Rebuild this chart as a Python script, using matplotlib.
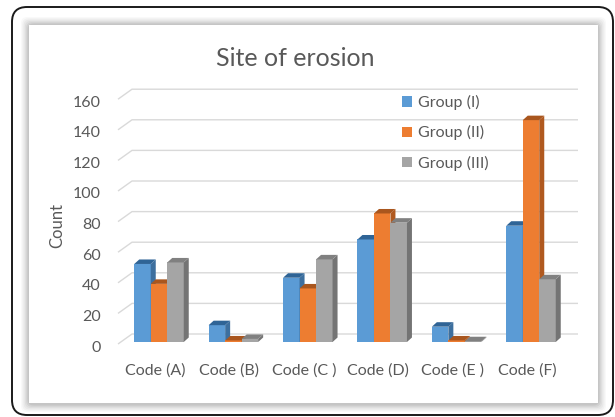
import matplotlib
matplotlib.use("Agg")
import matplotlib.pyplot as plt
from matplotlib.patches import FancyBboxPatch, Polygon, Patch
from matplotlib.transforms import ScaledTranslation

# ---- data ----
categories = ["Code (A)", "Code (B)", "Code (C )", "Code (D)", "Code (E )", "Code (F)"]
series_names = ["Group (I)", "Group (II)", "Group (III)"]
group_1 = [51, 11, 42, 67, 10, 76]
group_2 = [38, 1, 35, 84, 1, 145]
group_3 = [52, 2, 54, 78, 0.5, 41]
y_ticks = [0, 20, 40, 60, 80, 100, 120, 140, 160]

front_colors = ["#5B9BD5", "#ED7D31", "#A5A5A5"]
side_colors = ["#3D6F9E", "#B0591F", "#747474"]
top_colors = ["#2F6496", "#A9561E", "#808080"]
text_color = "#595959"
grid_color = "#D9D9D9"

W, H, DPI = 615, 417, 100
plt.rcParams["font.family"] = ["Lato", "DejaVu Sans"]

fig = plt.figure(figsize=(W / DPI, H / DPI), dpi=DPI)
fig.patch.set_facecolor("white")


def px_rect(x0, y0, x1, y1):
    """Rectangle given in top-left pixel coordinates -> inches from bottom-left."""
    return x0 / DPI, (H - y1) / DPI, (x1 - x0) / DPI, (y1 - y0) / DPI


# outer rounded frame
x, y, w, h = px_rect(12, 7, 613, 415)
fig.patches.append(FancyBboxPatch((x, y), w, h, boxstyle="round,pad=0,rounding_size=0.15",
                                  transform=fig.dpi_scale_trans, facecolor="white",
                                  edgecolor="#1a1a1a", linewidth=1.4, zorder=0))

# soft drop shadow behind the chart panel
for i, a in enumerate([0.025, 0.03, 0.035, 0.04, 0.05, 0.06]):
    g = 8 - i * 1.3
    x, y, w, h = px_rect(29 - g, 25 - g, 598 + g, 403 + g + 1)
    fig.patches.append(FancyBboxPatch((x, y), w, h, boxstyle="round,pad=0,rounding_size=0.06",
                                      transform=fig.dpi_scale_trans, facecolor="black",
                                      edgecolor="none", alpha=a, zorder=0.1))
x, y, w, h = px_rect(29, 25, 598, 403)
fig.patches.append(FancyBboxPatch((x, y), w, h, boxstyle="square,pad=0",
                                  transform=fig.dpi_scale_trans, facecolor="white",
                                  edgecolor="none", zorder=0.2))

# plotting area (front plane of the bars)
ax_l, ax_r, ax_t, ax_b = 118, 600, 70, 352
ax = fig.add_axes([ax_l / W, (H - ax_b) / H, (ax_r - ax_l) / W, (ax_b - ax_t) / H])
ax.set_zorder(2)
ax.set_facecolor("none")
for s in ax.spines.values():
    s.set_visible(False)

x0_px, cat_px = 159.0, 74.4      # category centre / spacing in pixels
y0_px, val_px = 342.0, 1.53      # baseline / pixels per unit
ax.set_xlim((ax_l - x0_px) / cat_px, (ax_r - x0_px) / cat_px)
ax.set_ylim((y0_px - ax_b) / val_px, (y0_px - ax_t) / val_px)

ux = 1.0 / cat_px   # data units per pixel
uy = 1.0 / val_px

# 3-D style gridlines: short floor stub then back wall line
x_left = ax.get_xlim()[0]
for v in y_ticks:
    yf = v - 2 * uy
    yb = v + 8 * uy
    ax.plot([x_left, x_left + 14 * ux, (578 - x0_px) * ux], [yf, yb, yb],
            color=grid_color, lw=1.0, zorder=1, clip_on=False, solid_capstyle="butt")

# bars with top and side faces
bar_w = 16.5 * ux
dx, dy = 5 * ux, 4.5 * uy
series = [group_1, group_2, group_3]
z = 2
for ci in range(len(categories)):
    for si, vals in enumerate(series):
        xc = ci + (si - 1) * bar_w
        v = vals[ci]
        xl, xr = xc - bar_w / 2, xc + bar_w / 2
        ax.bar(xc, v, width=bar_w, color=front_colors[si], edgecolor="none",
               zorder=z, label=series_names[si] if ci == 0 else None)
        ax.add_patch(Polygon([(xr, 0), (xr, v), (xr + dx, v + dy), (xr + dx, dy)],
                             closed=True, facecolor=side_colors[si], edgecolor="none", zorder=z))
        ax.add_patch(Polygon([(xl, v), (xr, v), (xr + dx, v + dy), (xl + dx, v + dy)],
                             closed=True, facecolor=top_colors[si], edgecolor="none", zorder=z))
        z += 1

# ticks and labels
ax.set_xticks(range(len(categories)))
ax.set_xticklabels(categories)
ax.set_yticks(y_ticks)
ax.set_yticklabels([str(t) for t in y_ticks])
ax.tick_params(axis="both", length=0, labelsize=11.5, labelcolor=text_color)
ax.tick_params(axis="y", pad=12.5)
ax.tick_params(axis="x", pad=8.5)
for lab in ax.get_yticklabels():
    lab.set_transform(lab.get_transform() + ScaledTranslation(0, -4 / DPI, fig.dpi_scale_trans))
for lab in ax.get_xticklabels():
    lab.set_transform(lab.get_transform() + ScaledTranslation(-4 / DPI, 0, fig.dpi_scale_trans))

ax.set_ylabel("Count", fontsize=12, color=text_color)
ax.yaxis.set_label_coords((65 - ax_l) / (ax_r - ax_l), (ax_b - 225) / (ax_b - ax_t))

ax.set_title("Site of erosion", fontsize=18, color=text_color,
             x=(295.5 - ax_l) / (ax_r - ax_l), y=(ax_b - 66) / (ax_b - ax_t), pad=0)

handles = [Patch(facecolor=c, edgecolor="none") for c in front_colors]
leg = ax.legend(handles, series_names, loc="upper left", frameon=False,
                bbox_to_anchor=((402 - ax_l) / (ax_r - ax_l), (ax_b - 95) / (ax_b - ax_t)),
                fontsize=11.5, labelcolor=text_color, handlelength=0.6, handleheight=0.6,
                handletextpad=0.4, labelspacing=0.95, borderaxespad=0, borderpad=0)

fig.savefig("out.png", dpi=DPI)
